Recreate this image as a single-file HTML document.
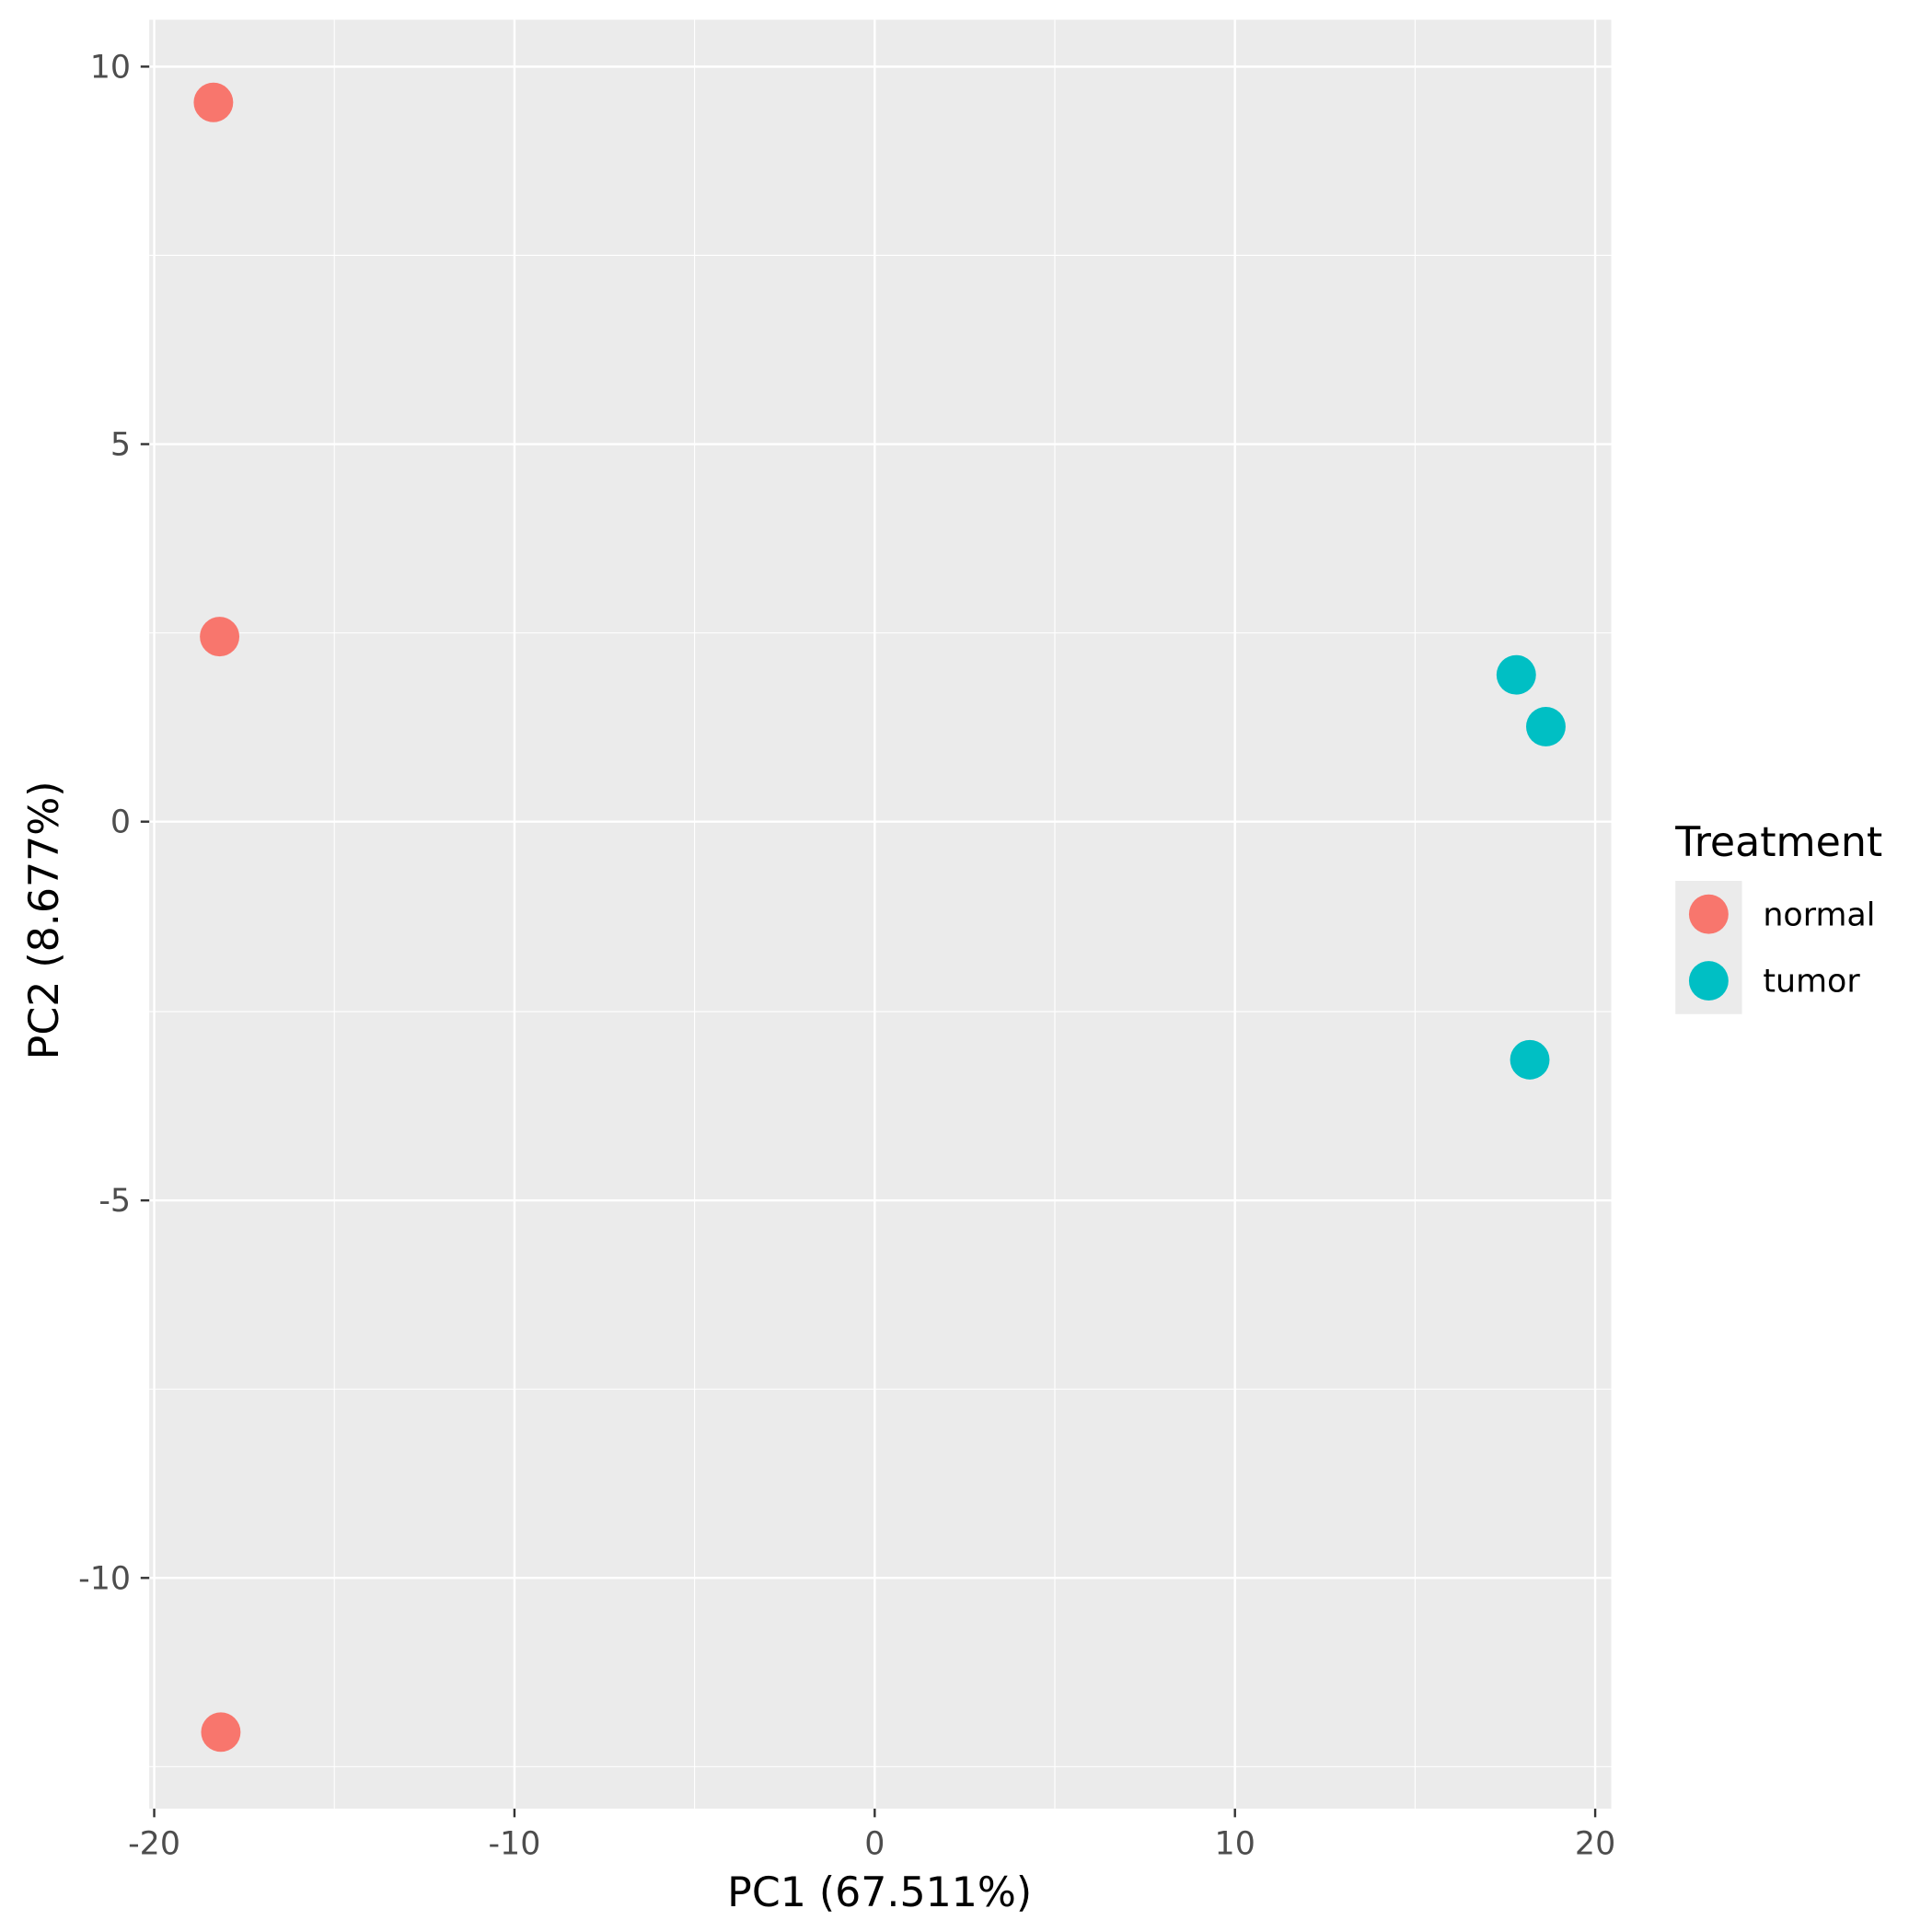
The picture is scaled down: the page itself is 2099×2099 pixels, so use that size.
<!DOCTYPE html>
<html><head><style>html,body{margin:0;padding:0;background:#fff}svg{display:block}</style></head>
<body>
<svg width="2099" height="2099" viewBox="0 0 1566 1566" xmlns="http://www.w3.org/2000/svg" font-family="DejaVu Sans, Liberation Sans, sans-serif">
<rect x="0" y="0" width="1566" height="1566" fill="#fff"/>
<rect x="121" y="16" width="1185" height="1450" fill="#EBEBEB"/>
<g stroke="#fff" stroke-width="0.8">
<line x1="271" y1="16" x2="271" y2="1466"/><line x1="563" y1="16" x2="563" y2="1466"/><line x1="855" y1="16" x2="855" y2="1466"/><line x1="1147" y1="16" x2="1147" y2="1466"/>
<line x1="121" y1="207" x2="1306" y2="207"/><line x1="121" y1="513" x2="1306" y2="513"/><line x1="121" y1="820" x2="1306" y2="820"/><line x1="121" y1="1126" x2="1306" y2="1126"/><line x1="121" y1="1432" x2="1306" y2="1432"/>
</g>
<g stroke="#fff" stroke-width="1.8">
<line x1="125" y1="16" x2="125" y2="1466"/><line x1="417" y1="16" x2="417" y2="1466"/><line x1="709" y1="16" x2="709" y2="1466"/><line x1="1001" y1="16" x2="1001" y2="1466"/><line x1="1293" y1="16" x2="1293" y2="1466"/>
<line x1="121" y1="54" x2="1306" y2="54"/><line x1="121" y1="360" x2="1306" y2="360"/><line x1="121" y1="666" x2="1306" y2="666"/><line x1="121" y1="973" x2="1306" y2="973"/><line x1="121" y1="1279" x2="1306" y2="1279"/>
</g>
<g stroke="#333" stroke-width="1.8">
<line x1="125" y1="1466" x2="125" y2="1473"/><line x1="417" y1="1466" x2="417" y2="1473"/><line x1="709" y1="1466" x2="709" y2="1473"/><line x1="1001" y1="1466" x2="1001" y2="1473"/><line x1="1293" y1="1466" x2="1293" y2="1473"/>
<line x1="114" y1="54" x2="121" y2="54"/><line x1="114" y1="360" x2="121" y2="360"/><line x1="114" y1="666" x2="121" y2="666"/><line x1="114" y1="973" x2="121" y2="973"/><line x1="114" y1="1279" x2="121" y2="1279"/>
</g>
<g fill="#4D4D4D" font-size="26">
<g text-anchor="middle">
<text x="125" y="1503">-20</text><text x="417" y="1503">-10</text><text x="709" y="1503">0</text><text x="1001" y="1503">10</text><text x="1293" y="1503">20</text>
</g>
<g text-anchor="end">
<text x="106" y="63">10</text><text x="106" y="369">5</text><text x="106" y="675">0</text><text x="106" y="982">-5</text><text x="106" y="1288">-10</text>
</g>
</g>
<text x="713" y="1545" text-anchor="middle" font-size="33" fill="#000">PC1 (67.511%)</text>
<text transform="translate(47,746) rotate(-90)" text-anchor="middle" font-size="33" fill="#000">PC2 (8.677%)</text>
<g fill="#F8766D">
<circle cx="173" cy="83" r="16"/><circle cx="178" cy="516" r="16"/><circle cx="179" cy="1404" r="16"/>
</g>
<g fill="#00BFC4">
<circle cx="1229" cy="547" r="16"/><circle cx="1253" cy="589" r="16"/><circle cx="1240" cy="859" r="16"/>
</g>
<text x="1358" y="694" font-size="33" fill="#000">Treatment</text>
<rect x="1358" y="714" width="54" height="108" fill="#EBEBEB"/>
<circle cx="1385" cy="741" r="16" fill="#F8766D"/>
<circle cx="1385" cy="795" r="16" fill="#00BFC4"/>
<text x="1429" y="750" font-size="26" fill="#000">normal</text>
<text x="1429" y="804" font-size="26" fill="#000">tumor</text>
</svg>
</body></html>
